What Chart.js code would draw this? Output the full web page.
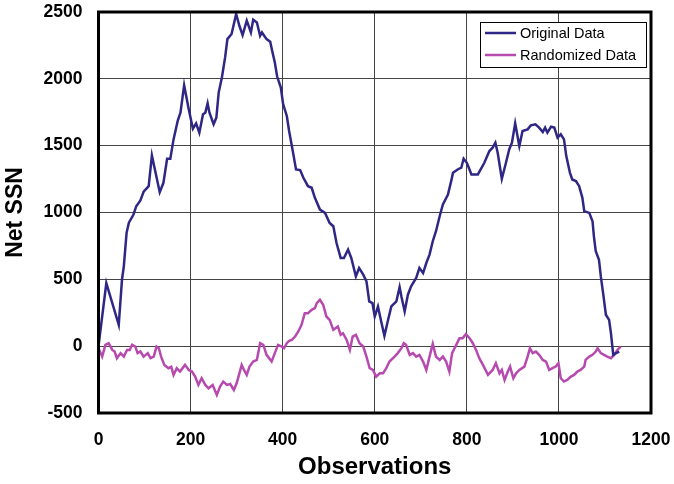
<!DOCTYPE html>
<html>
<head>
<meta charset="utf-8">
<script src="https://cdn.jsdelivr.net/npm/chart.js@4"></script>
<style>
  html, body { margin: 0; padding: 0; background: #fff; }
  #chart { display: block; }
</style>
</head>
<body>
<canvas id="chart" width="674" height="484"></canvas>
<script>
const origObs = [0,17,44,51,55,61,66,76,82,91,98,109,116,133,141,149,156,163,172,178,186,196,205,212,219,227,232,237,241,250,256,261,268,275,280,289,299,306,313,322,331,336,344,351,355,365,373,378,383,388,396,401,409,414,420,429,438,445,455,463,470,481,492,502,510,517,526,533,542,549,559,566,575,582,588,595,600,607,614,621,629,636,647,654,658,665,672,679,690,697,705,712,719,726,733,741,748,759,766,770,780,788,793,800,810,824,838,849,856,862,867,876,885,892,898,905,914,921,932,939,949,957,965,970,975,983,990,997,1004,1011,1016,1024,1029,1037,1044,1051,1055,1066,1073,1076,1080,1087,1091,1096,1102,1109,1113,1118,1124,1131];
const origVals = [0,472,160,497,597,848,924,985,1047,1090,1155,1197,1427,1152,1222,1402,1402,1547,1685,1747,1952,1772,1627,1667,1597,1735,1747,1817,1747,1660,1710,1897,2010,2160,2297,2335,2485,2397,2327,2435,2347,2442,2422,2322,2347,2297,2277,2197,2122,2017,1935,1810,1722,1610,1497,1322,1317,1260,1197,1185,1110,1022,997,922,897,772,660,660,722,660,522,585,535,485,335,322,222,297,185,77,197,297,335,442,370,260,385,447,510,585,547,622,685,785,860,972,1060,1135,1235,1297,1322,1335,1402,1372,1285,1285,1372,1460,1485,1522,1447,1252,1372,1472,1522,1667,1497,1610,1622,1652,1660,1635,1602,1635,1597,1642,1635,1560,1585,1547,1422,1297,1247,1235,1197,1110,1010,997,935,822,710,647,522,397,235,197,97,-65,-52,-40];

const randObs = [0,8,15,22,30,35,40,48,55,62,68,73,80,85,91,98,107,113,120,126,131,136,143,152,158,163,170,177,188,196,203,210,217,224,232,239,248,257,264,271,279,286,294,300,306,311,316,322,328,336,344,351,358,365,376,383,390,398,403,409,414,420,427,434,441,448,455,463,470,474,481,488,495,502,510,520,526,531,539,546,552,559,567,575,582,589,596,603,611,618,625,632,643,650,658,663,668,676,683,690,697,705,712,719,726,733,741,748,755,762,768,777,784,791,798,806,813,820,827,835,846,856,863,871,876,882,889,894,901,907,914,925,932,937,943,950,957,965,972,979,986,993,999,1004,1011,1018,1026,1033,1040,1047,1055,1058,1066,1073,1080,1084,1091,1098,1105,1113,1120,1127,1134];
const randVals = [-15,-78,10,22,-28,-40,-90,-52,-78,-28,-28,10,-3,-52,-40,-78,-52,-90,-78,-3,-15,-78,-140,-165,-155,-215,-165,-190,-140,-178,-190,-228,-290,-240,-290,-315,-290,-365,-303,-265,-290,-283,-328,-278,-203,-140,-178,-215,-153,-115,-103,22,10,-65,-115,-52,10,-3,-15,22,40,47,72,110,160,247,247,272,285,322,347,310,222,197,122,147,85,97,47,-28,72,85,22,-3,-78,-165,-178,-228,-203,-203,-165,-115,-78,-52,-15,22,10,-65,-52,-78,-65,-115,-178,-78,17,-78,-103,-78,-115,-190,-52,10,60,60,90,60,22,-28,-90,-140,-215,-178,-128,-203,-178,-253,-190,-153,-240,-203,-178,-153,-78,-15,-52,-40,-65,-103,-115,-178,-165,-153,-128,-240,-265,-253,-228,-215,-190,-178,-153,-103,-78,-65,-40,-15,-52,-65,-78,-90,-65,-28,-3];

const xTicks = [0, 200, 400, 600, 800, 1000, 1200];
const yTicks = [-500, 0, 500, 1000, 1500, 2000, 2500];

const seriesNames = ['Original Data', 'Randomized Data'];
const seriesColors = ['#2f2785', '#b64aae'];

const toPoints = (xs, ys) => xs.map((x, i) => ({ x: x, y: ys[i] }));

const boldFont = "'Liberation Sans', Arial, sans-serif";

// Thick frame around the plot + boxed legend in the top right corner
const framePlugin = {
    id: 'frame',
    afterDatasetsDraw(chart) {
        const { ctx, chartArea: a } = chart;
        ctx.save();
        ctx.strokeStyle = '#000';
        ctx.lineWidth = 3;
        ctx.strokeRect(a.left, a.top, a.right - a.left, a.bottom - a.top);

        // legend
        const bx = 480, by = 22, bw = 166, bh = 45;
        ctx.fillStyle = '#fff';
        ctx.fillRect(bx, by, bw, bh);
        ctx.lineWidth = 1;
        ctx.strokeRect(bx + 0.5, by + 0.5, bw, bh);
        ctx.font = "14.5px 'Liberation Sans', Arial, sans-serif";
        ctx.textBaseline = 'middle';
        chart.data.datasets.forEach((ds, i) => {
            const y = 33 + i * 22;
            ctx.strokeStyle = ds.borderColor;
            ctx.lineWidth = 2.5;
            ctx.beginPath();
            ctx.moveTo(485, y);
            ctx.lineTo(516, y);
            ctx.stroke();
            ctx.fillStyle = '#000';
            ctx.fillText(ds.label, 520, y + 1);
        });
        ctx.restore();
    }
};

// invisible tick marks used as the gap between axis and labels
const gridOpts = (gap) => ({
    color: '#444',
    lineWidth: 1,
    drawTicks: true,
    tickLength: gap,
    tickColor: 'rgba(0,0,0,0)'
});

new Chart(document.getElementById('chart'), {
    type: 'line',
    data: {
        datasets: [
            {
                label: seriesNames[0],
                data: toPoints(origObs, origVals),
                borderColor: seriesColors[0],
                borderWidth: 2.5,
                pointRadius: 0,
                tension: 0
            },
            {
                label: seriesNames[1],
                data: toPoints(randObs, randVals),
                borderColor: seriesColors[1],
                borderWidth: 2.5,
                pointRadius: 0,
                tension: 0
            }
        ]
    },
    options: {
        responsive: false,
        animation: false,
        layout: { padding: { top: 12, right: 23, left: 0, bottom: 0 } },
        plugins: {
            legend: { display: false },
            tooltip: { enabled: false }
        },
        scales: {
            x: {
                type: 'linear',
                min: 0,
                max: 1200,
                afterFit: s => { s.height = 71; },
                afterBuildTicks: s => { s.ticks = xTicks.map(v => ({ value: v })); },
                grid: gridOpts(17),
                border: { display: false },
                ticks: {
                    padding: 0,
                    color: '#000',
                    maxRotation: 0,
                    callback: v => String(v),
                    font: { family: boldFont, size: 17.5, weight: 'bold' }
                },
                title: {
                    display: true,
                    text: 'Observations',
                    color: '#000',
                    padding: { top: 0, bottom: 2 },
                    font: { family: boldFont, size: 24, weight: 'bold' }
                }
            },
            y: {
                min: -500,
                max: 2500,
                afterFit: s => { s.width = 98.5; },
                afterBuildTicks: s => { s.ticks = yTicks.map(v => ({ value: v })); },
                grid: gridOpts(16),
                border: { display: false },
                ticks: {
                    padding: 0,
                    color: '#000',
                    callback: v => String(v),
                    font: { family: boldFont, size: 17.5, weight: 'bold' }
                },
                title: {
                    display: true,
                    text: 'Net SSN',
                    color: '#000',
                    padding: { top: 2, bottom: 0 },
                    font: { family: boldFont, size: 23, weight: 'bold' }
                }
            }
        }
    },
    plugins: [framePlugin]
});
</script>
</body>
</html>
